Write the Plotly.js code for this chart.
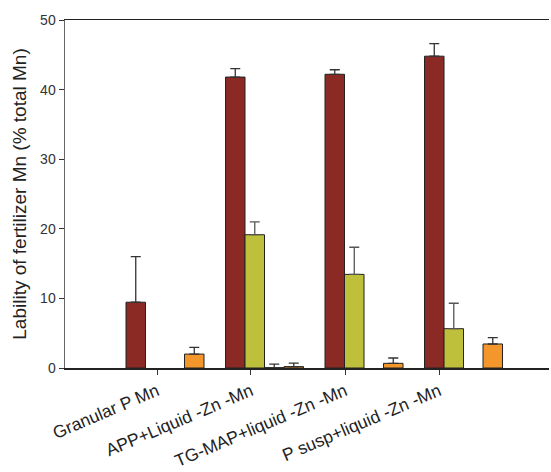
<!DOCTYPE html>
<html>
<head>
<meta charset="utf-8">
<script src="https://cdn.plot.ly/plotly-3.0.1.min.js"></script>
<style>html,body{margin:0;padding:0;background:#fff;}#chart{width:551px;height:472px;}</style>
</head>
<body>
<div id="chart"></div>
<script>
const categories = ["Granular P Mn", "APP+Liquid -Zn -Mn", "TG-MAP+liquid -Zn -Mn", "P susp+liquid -Zn -Mn"];
const groupIndex = [0, 1, 2, 3];
const seriesA = [9.45, 41.8, 42.2, 44.8];
const seriesAErr = [6.55, 1.2, 0.65, 1.8];
const seriesB = [0, 19.15, 13.45, 5.65];
const seriesBErr = [0, 1.85, 3.9, 3.65];
const seriesC = [0, 0.05, 0, 0];
const seriesCErr = [0, 0.5, 0, 0];
const seriesD = [2.0, 0.2, 0.67, 3.45];
const seriesDErr = [0.95, 0.5, 0.77, 0.9];
const tickPositions = [-0.08, 0.864, 1.809, 2.754];

function mk(y, err, color, errColor) {
  return {
    type: 'bar', x: groupIndex, y: y.map(v => v === 0 ? null : v),
    marker: {color: color, line: {color: '#222', width: 1}},
    error_y: {type: 'data', array: err, symmetric: false, arrayminus: err.map(() => 0),
              color: errColor, thickness: 1.3, width: 5},
    hoverinfo: 'y'
  };
}
const data = [
  mk(seriesA, seriesAErr, '#8B2A24', '#333'),
  mk(seriesB, seriesBErr, '#BEBF3A', '#555'),
  mk(seriesC, seriesCErr, '#A0A0A0', '#333'),
  mk(seriesD, seriesDErr, '#F3962B', '#333')
];
const layout = {
  width: 551, height: 472,
  margin: {l: 65, r: 2, t: 20, b: 104},
  paper_bgcolor: '#fff', plot_bgcolor: '#fff',
  showlegend: false,
  barmode: 'group', bargap: 0.216, bargroupgap: 0,
  font: {family: 'Liberation Sans, Arial, sans-serif', color: '#222'},
  xaxis: {
    range: [-1.005, 3.859], tickmode: 'array', tickvals: tickPositions, ticktext: categories,
    tickangle: -23, ticks: 'outside', ticklen: 5, tickcolor: '#333',
    showline: true, linecolor: '#222', linewidth: 1.5, mirror: true,
    showgrid: false, zeroline: false,
    tickfont: {size: 17.5, color: '#222'}
  },
  yaxis: {
    range: [0, 50], tickvals: [0, 10, 20, 30, 40, 50],
    ticks: 'outside', ticklen: 5, tickcolor: '#333',
    showline: true, linecolor: '#666', linewidth: 1.5,
    showgrid: false, zeroline: false,
    tickfont: {size: 14, color: '#333'},
    title: {text: 'Lability of fertilizer Mn (% total Mn)', font: {size: 19, color: '#222'}, standoff: 8}
  }
};
Plotly.newPlot('chart', data, layout, {displayModeBar: false, staticPlot: true});
</script>
</body>
</html>
